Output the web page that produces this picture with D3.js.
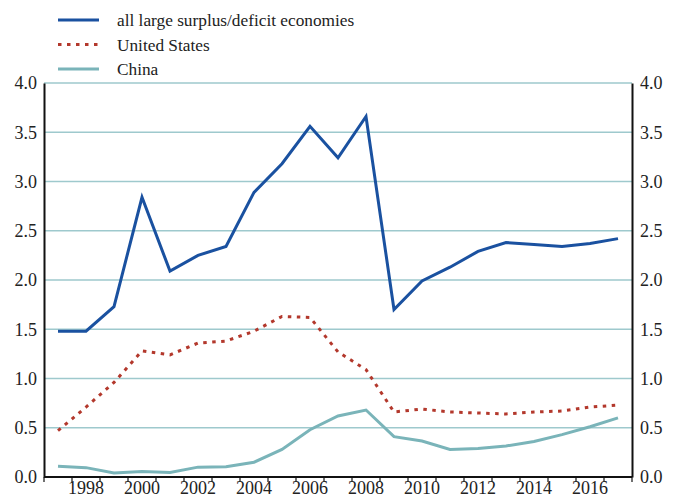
<!DOCTYPE html>
<html><head><meta charset="utf-8">
<script src="https://cdn.jsdelivr.net/npm/d3@7"></script>
<style>body{margin:0;background:#fff}svg{display:block}svg text{font-family:'Liberation Serif','Times New Roman',Times,'DejaVu Serif',serif !important;fill:#222}</style>
</head><body><svg id="c" width="675" height="497"></svg>
<script>
const years = d3.range(1997, 2018);
const allLarge = [1.48,1.48,1.73,2.84,2.09,2.25,2.34,2.89,3.18,3.56,3.24,3.66,1.70,1.99,2.13,2.29,2.38,2.36,2.34,2.37,2.42];
const unitedStates = [0.47,0.71,0.96,1.28,1.24,1.36,1.38,1.48,1.63,1.62,1.27,1.09,0.66,0.69,0.66,0.65,0.64,0.66,0.67,0.71,0.73];
const china = [0.11,0.095,0.04,0.055,0.045,0.10,0.105,0.15,0.28,0.48,0.62,0.68,0.41,0.365,0.28,0.29,0.315,0.36,0.43,0.51,0.60];
const yTicks = [0,0.5,1,1.5,2,2.5,3,3.5,4];
const xLabelYears = [1998,2000,2002,2004,2006,2008,2010,2012,2014,2016];
const seriesNames = ["all large surplus/deficit economies","United States","China"];

const FONT = "'Liberation Serif','Times New Roman',Times,'DejaVu Serif',serif";
const svg = d3.select("#c");
const L = 44, R = 632, T = 83, B = 477;
const x = d3.scaleBand().domain(years).range([L, R]);
const y = d3.scaleLinear().domain([0, 4]).range([B, T]);
const cx = d => x(d) + x.bandwidth() / 2;

// gridlines
svg.append("g").selectAll("line").data(yTicks.filter(v => v > 0)).join("line")
  .attr("x1", L).attr("x2", R).attr("y1", d => y(d)).attr("y2", d => y(d))
  .attr("stroke", "#9ec9cd").attr("stroke-width", 1.5);

// axes
const fmt = d3.format(".1f");
const gl = svg.append("g").attr("transform", `translate(${L},0)`)
  .call(d3.axisLeft(y).tickValues(yTicks).tickFormat(fmt).tickSize(0).tickPadding(7));
const gr = svg.append("g").attr("transform", `translate(${R},0)`)
  .call(d3.axisRight(y).tickValues(yTicks).tickFormat(fmt).tickSize(0).tickPadding(8));
[gl, gr].forEach(g => {
  g.attr("font-family", FONT);
  g.select(".domain").attr("stroke", "#111").attr("stroke-width", 2);
  g.selectAll("text").attr("font-size", 18).attr("font-family", FONT).attr("fill", "#222");
});
// bottom ticks at band boundaries
const bounds = years.map(d => x(d)).concat([R]);
const gb = svg.append("g");
gb.append("line").attr("x1", L).attr("x2", R).attr("y1", B).attr("y2", B).attr("stroke", "#111").attr("stroke-width", 2);
gb.selectAll("line.t").data(bounds).join("line").attr("class", "t")
  .attr("x1", d => d).attr("x2", d => d).attr("y1", B).attr("y2", B + 5)
  .attr("stroke", "#111").attr("stroke-width", 1.2);
gb.selectAll("text").data(xLabelYears).join("text")
  .attr("x", d => cx(d)).attr("y", 494).attr("text-anchor", "middle")
  .attr("font-family", FONT).attr("font-size", 18).text(d => d);

// lines
const line = vals => d3.line().x((d, i) => cx(years[i])).y(d => y(d))(vals);
svg.append("path").attr("d", line(china)).attr("fill", "none").attr("stroke", "#7ab4b9").attr("stroke-width", 3);
svg.append("path").attr("d", line(unitedStates)).attr("fill", "none").attr("stroke", "#b3382c").attr("stroke-width", 3).attr("stroke-dasharray", "3.5,5.5");
svg.append("path").attr("d", line(allLarge)).attr("fill", "none").attr("stroke", "#1a51a0").attr("stroke-width", 3);

// legend
const styles = [
  {c: "#1a51a0", dash: null},
  {c: "#b3382c", dash: "3.5,5.5"},
  {c: "#7ab4b9", dash: null}
];
const lg = svg.append("g");
seriesNames.forEach((n, i) => {
  const yy = 20 + i * 24.5;
  lg.append("line").attr("x1", 58).attr("x2", 99).attr("y1", yy).attr("y2", yy)
    .attr("stroke", styles[i].c).attr("stroke-width", 3).attr("stroke-dasharray", styles[i].dash);
  lg.append("text").attr("x", 117).attr("y", yy + 6).attr("font-family", FONT).attr("font-size", 17.3).text(n);
});
</script></body></html>
